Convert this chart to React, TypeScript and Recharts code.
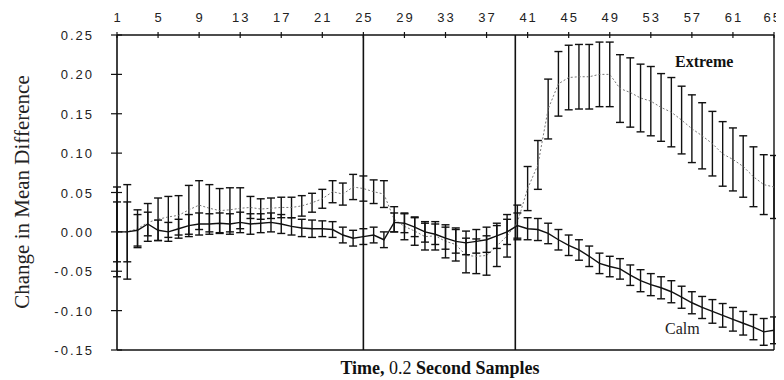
import React from 'react'
import { ErrorBar, Line, LineChart, ReferenceLine, XAxis, YAxis } from 'recharts'

// sample-by-sample means and standard errors, samples 1..65
const extremeMean = [
  0.0, 0.0, 0.004, 0.012, 0.016, 0.019, 0.021, 0.028, 0.034, 0.03,
  0.027, 0.028, 0.03, 0.031, 0.029, 0.03, 0.031, 0.031, 0.033, 0.037,
  0.042, 0.051, 0.048, 0.057, 0.055, 0.051, 0.048, 0.016, 0.007, 0.001,
  -0.006, -0.005, -0.012, -0.016, -0.03, -0.031, -0.03, -0.018, -0.005, 0.012,
  0.055, 0.085, 0.156, 0.188, 0.196, 0.197, 0.197, 0.2, 0.2, 0.182,
  0.177, 0.17, 0.166, 0.158, 0.152, 0.142, 0.131, 0.122, 0.112, 0.099,
  0.092, 0.083, 0.07, 0.06, 0.057,
]
const extremeErr = [
  0.057, 0.06, 0.024, 0.024, 0.027, 0.026, 0.025, 0.031, 0.031, 0.03,
  0.028, 0.028, 0.026, 0.014, 0.013, 0.013, 0.013, 0.013, 0.013, 0.012,
  0.012, 0.014, 0.014, 0.016, 0.016, 0.015, 0.017, 0.016, 0.017, 0.018,
  0.017, 0.018, 0.021, 0.021, 0.022, 0.022, 0.025, 0.026, 0.027, 0.022,
  0.028, 0.031, 0.038, 0.041, 0.041, 0.041, 0.041, 0.041, 0.041, 0.043,
  0.044, 0.043, 0.044, 0.043, 0.044, 0.043, 0.043, 0.042, 0.041, 0.041,
  0.04, 0.039, 0.038, 0.038, 0.04,
]
const calmMean = [
  0.0, 0.0, 0.002, 0.01, 0.002, 0.0, 0.004, 0.008, 0.01, 0.01,
  0.011, 0.01, 0.012, 0.01, 0.011, 0.012, 0.01, 0.007, 0.005, 0.004,
  0.004, 0.003, -0.004, -0.008, -0.006, -0.004, -0.01, 0.012, 0.011, 0.006,
  0.0, -0.003, -0.008, -0.012, -0.014, -0.012, -0.01, -0.005, 0.0, 0.008,
  0.004, 0.003, -0.002, -0.01, -0.017, -0.023, -0.031, -0.04, -0.044, -0.047,
  -0.055, -0.062, -0.067, -0.071, -0.076, -0.083, -0.09, -0.096, -0.101, -0.106,
  -0.111, -0.116, -0.121, -0.127, -0.125,
]
const calmErr = [
  0.038, 0.038, 0.02, 0.015, 0.013, 0.012, 0.012, 0.014, 0.014, 0.013,
  0.013, 0.013, 0.013, 0.013, 0.012, 0.012, 0.012, 0.011, 0.011, 0.011,
  0.01, 0.01, 0.01, 0.01, 0.01, 0.01, 0.01, 0.012, 0.012, 0.012,
  0.013, 0.013, 0.014, 0.015, 0.015, 0.015, 0.016, 0.016, 0.016, 0.016,
  0.014, 0.014, 0.013, 0.013, 0.013, 0.013, 0.013, 0.013, 0.013, 0.013,
  0.013, 0.014, 0.014, 0.014, 0.014, 0.014, 0.014, 0.014, 0.015, 0.015,
  0.015, 0.015, 0.016, 0.017, 0.017,
]

const xTicks = [1, 5, 9, 13, 17, 21, 25, 29, 33, 37, 41, 45, 49, 53, 57, 61, 65]
const yTicks = [-0.15, -0.1, -0.05, 0, 0.05, 0.1, 0.15, 0.2, 0.25]
const phaseMarks = [25, 39.8]

const rows = extremeMean.map((v, i) => ({
  sample: i + 1,
  extreme: v,
  extremeErr: extremeErr[i],
  calm: calmMean[i],
  calmErr: calmErr[i],
}))

const SANS = '"Liberation Sans", Arial, sans-serif'
const SERIF = '"Liberation Serif", "Times New Roman", serif'

function TopTick({ x, y, payload }: any) {
  // the last label sits against the right edge, so anchor it at its end
  const last = payload.value === xTicks[xTicks.length - 1]
  return (
    <g>
      <line x1={x} x2={x} y1={y - 3} y2={y + 3} stroke='#111' strokeWidth={1.2} />
      <text
        x={last ? x + 8 : x + 1}
        y={y - 13}
        textAnchor={last ? 'end' : 'middle'}
        fontFamily={SANS}
        fontSize={13}
        letterSpacing={2}
        fill='#222'
      >
        {payload.value}
      </text>
    </g>
  )
}

function LeftTick({ x, y, payload }: any) {
  return (
    <g>
      <line x1={x - 6} x2={x + 5} y1={y} y2={y} stroke='#111' strokeWidth={1.2} />
      <text x={x - 23} y={y + 5} textAnchor='end' fontFamily={SANS} fontSize={13} letterSpacing={2} fill='#222'>
        {payload.value.toFixed(2)}
      </text>
    </g>
  )
}

export default function App() {
  return (
    <div style={{ position: 'relative', width: 776, height: 372, background: '#fff' }}>
      <LineChart width={776} height={372} data={rows} margin={{ top: 2, left: 49, right: 10, bottom: 30 }}>
        <XAxis
          dataKey='sample'
          type='number'
          orientation='top'
          domain={[1, 65]}
          ticks={xTicks}
          height={25}
          tickSize={0}
          tickMargin={0}
          tickLine={false}
          tick={<TopTick />}
          axisLine={{ stroke: '#111', strokeWidth: 1.4 }}
          interval={0}
        />
        <YAxis
          type='number'
          domain={[-0.15, 0.25]}
          ticks={yTicks}
          width={60}
          tickSize={0}
          tickMargin={0}
          tickLine={false}
          tick={<LeftTick />}
          axisLine={{ stroke: '#111', strokeWidth: 1.6 }}
          interval={0}
          allowDataOverflow
        />
        <ReferenceLine y={-0.15} stroke='#111' strokeWidth={1.4} />
        <ReferenceLine x={65} stroke='#111' strokeWidth={1.4} />
        {phaseMarks.map((m) => (
          <ReferenceLine key={m} x={m} stroke='#111' strokeWidth={1.6} />
        ))}
        <Line
          dataKey='extreme'
          stroke='#777'
          strokeWidth={1}
          strokeDasharray='2 2'
          dot={false}
          isAnimationActive={false}
        >
          <ErrorBar dataKey='extremeErr' direction='y' width={4} stroke='#111' strokeWidth={1.4} />
        </Line>
        <Line dataKey='calm' stroke='#111' strokeWidth={1.4} dot={false} isAnimationActive={false}>
          <ErrorBar dataKey='calmErr' direction='y' width={4} stroke='#111' strokeWidth={1.4} />
        </Line>
      </LineChart>
      <svg width={776} height={372} style={{ position: 'absolute', left: 0, top: 0, pointerEvents: 'none' }}>
        <text
          transform='translate(21,184) rotate(-90)'
          textAnchor='middle'
          fontFamily={SERIF}
          fontSize={21}
          fill='#222'
        >
          Change in Mean Difference
        </text>
        <text x={432} y={366} textAnchor='middle' fontFamily={SERIF} fontSize={18} fontWeight='bold' fill='#111'>
          Time, <tspan fontWeight='normal'>0.2</tspan> Second Samples
        </text>
        <text x={667} y={59} fontFamily={SERIF} fontSize={16} fontWeight='bold' fill='#111'>
          Extreme
        </text>
        <text x={657} y={326} fontFamily={SERIF} fontSize={16} fill='#222'>
          Calm
        </text>
      </svg>
    </div>
  )
}
